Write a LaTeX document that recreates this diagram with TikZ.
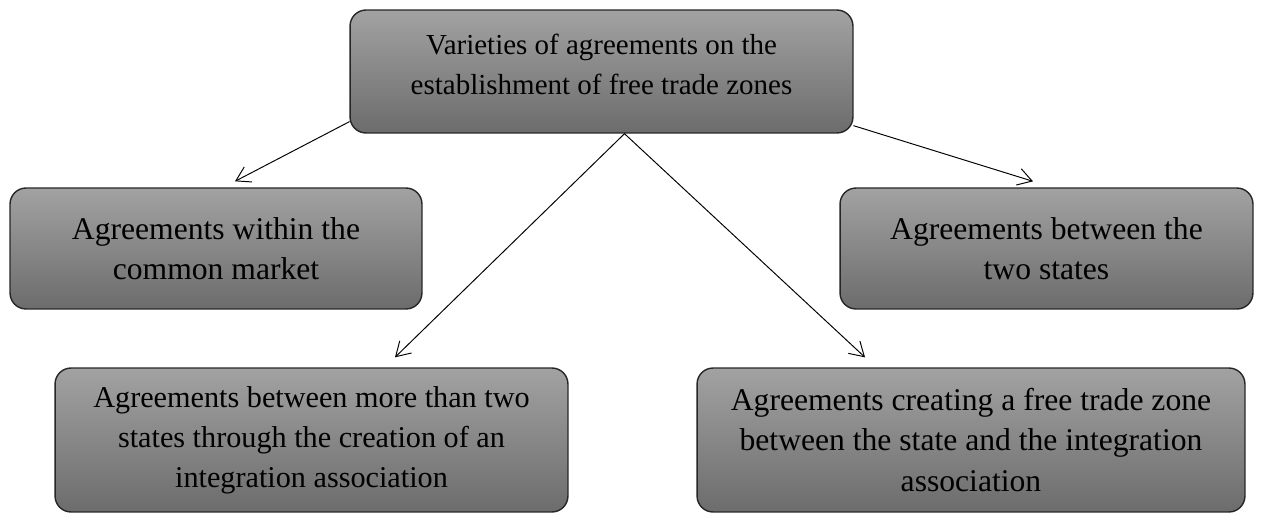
\documentclass[tikz,border=0pt]{standalone}
\usepackage{fontspec}
\setmainfont{Liberation Serif}
\usetikzlibrary{arrows.meta}

\definecolor{shadetop}{HTML}{A2A2A2}
\definecolor{shadebottom}{HTML}{6C6C6C}

\tikzset{
  kind/.style={draw=black!85,line width=0.8pt,rounded corners=0.32cm,
    top color=shadetop,bottom color=shadebottom,align=center,inner sep=0pt,
    font=\fontsize{18}{22.8}\selectfont},
  arr/.style={-{Straight Barb[length=0.28cm,width=0.34cm]},line width=0.55pt}
}

\begin{document}
\begin{tikzpicture}[x=0.02cm,y=-0.02cm,line cap=round,line join=round]
\useasboundingbox (0,0) rectangle (1265,522);
% boxes
\node[kind,minimum width=10.06cm,minimum height=2.46cm,text depth=0.3cm,
  font=\fontsize{16.5}{22.8}\selectfont] (top) at (601.5,71.5)
  {Varieties of agreements on the\\establishment of free trade zones};
\node[kind,minimum width=8.24cm,minimum height=2.42cm] (common) at (216,248.5)
  {Agreements within the\\common market};
\node[kind,minimum width=8.26cm,minimum height=2.42cm] (twostates) at (1046.5,248.5)
  {Agreements between the\\two states};
\node[kind,minimum width=10.26cm,minimum height=2.88cm,
  font=\fontsize{17.2}{22.8}\selectfont] (association) at (311.5,440)
  {Agreements between more than two\\states through the creation of an\\integration association};
\node[kind,minimum width=10.96cm,minimum height=2.88cm] (zone) at (971,440)
  {Agreements creating a free trade zone\\between the state and the integration\\association};
% arrows
\draw[arr] ([yshift=0.24cm]top.south west) -- ([xshift=0.38cm,yshift=0.12cm]common.north);
\draw[arr] ([xshift=0.46cm]top.south) -- ([xshift=1.67cm,yshift=0.2cm]association.north);
\draw[arr] ([xshift=0.46cm]top.south) -- ([xshift=-2.12cm,yshift=0.2cm]zone.north);
\draw[arr] ([yshift=0.16cm]top.south east) -- ([xshift=-0.27cm,yshift=0.12cm]twostates.north);
\end{tikzpicture}
\end{document}
